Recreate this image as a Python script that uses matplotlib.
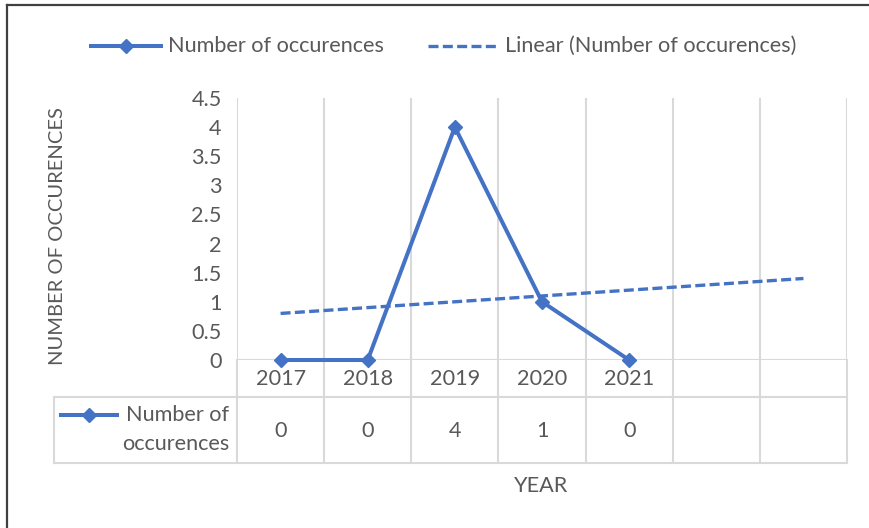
import numpy as np
import matplotlib.pyplot as plt
from matplotlib.lines import Line2D
from matplotlib.transforms import blended_transform_factory

# datos de la serie
years = ["2017", "2018", "2019", "2020", "2021"]
occurrences = [0, 0, 4, 1, 0]
n_slots = 7          # la tabla deja dos columnas vacías
forecast = 2         # la tendencia se prolonga dos periodos
y_ticks = [0, 0.5, 1, 1.5, 2, 2.5, 3, 3.5, 4, 4.5]
y_tick_labels = ["0", "0.5", "1", "1.5", "2", "2.5", "3", "3.5", "4", "4.5"]

BLUE = "#4472C4"
GRID = "#d9d9d9"
TXT = "#595959"
FONT = ["Lato", "DejaVu Sans"]
FS = 15.6
DASH = (0, (3.0, 1.3))

plt.rcParams["font.family"] = FONT

W, H = 869, 528
fig = plt.figure(figsize=(W / 100, H / 100), dpi=100)

# capa en píxeles para bordes, leyenda y tabla
bg = fig.add_axes([0, 0, 1, 1])
bg.set_xlim(0, W)
bg.set_ylim(H, 0)
bg.axis("off")

def px(x0, y0, x1, y1, **kw):
    bg.add_line(Line2D([x0, x1], [y0, y1], **kw))

# marco exterior
px(7, 5, W, 5, color="#404040", lw=1.6)
px(7, 5, 7, H, color="#404040", lw=1.6)

# área de trazado
left, right, top, bottom = 237, 847, 98, 360
ax = fig.add_axes([left / W, (H - bottom) / H, (right - left) / W, (bottom - top) / H])
ax.set_xlim(-0.5, n_slots - 0.5)
ax.set_ylim(0, 4.5)
for s in ax.spines.values():
    s.set_visible(False)
ax.set_xticks([])
ax.set_yticks(y_ticks)
ax.set_yticklabels(y_tick_labels)
ax.tick_params(axis="y", length=0, pad=11, labelsize=FS, labelcolor=TXT)
ax.patch.set_alpha(0)

# líneas verticales de la tabla que suben por el gráfico
for b in np.arange(n_slots + 1) - 0.5:
    ax.axvline(b, color=GRID, lw=1.5, zorder=0)
ax.axhline(0, color=GRID, lw=1.5, zorder=0)

x = np.arange(len(years))
ax.plot(x, occurrences, color=BLUE, lw=2.9, marker="D", ms=7, zorder=3, clip_on=False)

# tendencia lineal (mínimos cuadrados)
slope, intercept = np.polyfit(x, occurrences, 1)
xt = np.array([0, len(years) - 1 + forecast])
ax.plot(xt, slope * xt + intercept, color=BLUE, lw=2.4, ls=DASH, zorder=2)

# tabla de datos
tr = blended_transform_factory(ax.transData, bg.transData)
row1, row2 = 397, 463
px(54, row1, right, row1, color=GRID, lw=1.5)
px(54, row2, right, row2, color=GRID, lw=1.5)
px(54, row1, 54, row2, color=GRID, lw=1.5)
for b in np.arange(n_slots + 1) - 0.5:
    ax.plot([b, b], [bottom, row2], color=GRID, lw=1.5, transform=tr, clip_on=False)
for i, yr in enumerate(years):
    ax.text(i, 379, yr, transform=tr, ha="center", va="center", fontsize=FS, color=TXT)
    ax.text(i, 431, str(occurrences[i]), transform=tr, ha="center", va="center", fontsize=FS, color=TXT)

px(61, 415, 117, 415, color=BLUE, lw=2.9)
bg.plot([89], [415], marker="D", ms=7, color=BLUE)
bg.text(229, 415, "Number of", ha="right", va="center", fontsize=FS, color=TXT)
bg.text(229, 444, "occurences", ha="right", va="center", fontsize=FS, color=TXT)

# leyenda superior
px(91, 46, 161, 46, color=BLUE, lw=2.9)
bg.plot([126], [46], marker="D", ms=7, color=BLUE)
bg.text(168, 46, "Number of occurences", ha="left", va="center", fontsize=FS, color=TXT)
px(428, 46, 497, 46, color=BLUE, lw=2.4, ls=DASH)
bg.text(505, 46, "Linear (Number of occurences)", ha="left", va="center", fontsize=FS, color=TXT)

# títulos de ejes
bg.text(541, 486, "YEAR", ha="center", va="center", fontsize=FS, color=TXT)
bg.text(58, 236, "NUMBER OF OCCURENCES", ha="center", va="center", rotation=90, fontsize=14.5, color=TXT)

fig.savefig("out.png", dpi=100)
